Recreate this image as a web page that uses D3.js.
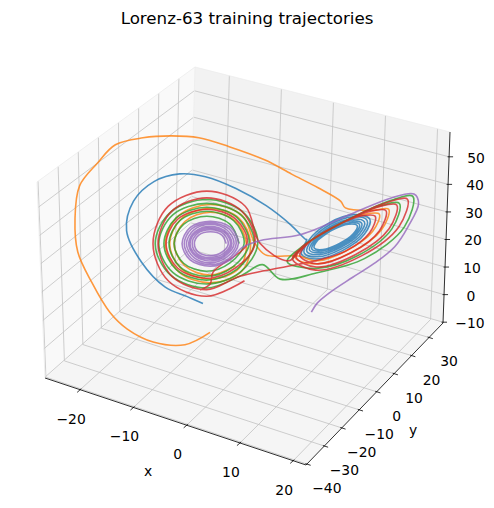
<!DOCTYPE html>
<html><head><meta charset="utf-8">
<script src="https://cdn.jsdelivr.net/npm/d3@7"></script>
<style>body{margin:0;background:#fff}svg{display:block;font-family:"DejaVu Sans",sans-serif}</style>
</head><body><svg id="c" width="494" height="508"></svg>
<script>
const xLim=[-26.6,22.4], yLim=[-40.5,38], zLim=[-10.3,59];
const xTicks=[-20,-10,0,10,20], yTicks=[-40,-30,-20,-10,0,10,20,30], zTicks=[-10,0,10,20,30,40,50];
const seriesNames=["blue","orange","green","red","purple"];
const colors=["#1f77b4","#ff7f0e","#2ca02c","#d62728","#9467bd"];

const blue=[[-8,-8,8.5],[-10.2,-10.2,11],[-13.3,-13.3,14.5],[-16.5,-16.5,23.3],[-18.5,-18.5,34.6],[-17.5,-17.5,45.2],[-14.7,-14.7,52.3],[-11.2,-11.2,55.1],[-7.7,-7.7,54.1],[-3.5,-3.5,49.8],[0.7,0.7,43.5],[4.2,4.2,36.4],[6.3,6.3,31.1],
[6.44,6.44,31.09],[5.75,5.75,25.76],[7.88,7.88,23.99],[11.51,11.51,26.78],[14.56,14.56,32.51],[15.25,15.25,37.84],[13.12,13.12,39.61],[9.49,9.49,36.82],
[6.79,6.79,30.99],[6.12,6.12,26.23],[8.05,8.05,24.77],[11.38,11.38,27.4],[14.21,14.21,32.61],[14.88,14.88,37.37],[12.95,12.95,38.83],[9.62,9.62,36.2],
[7.14,7.14,30.88],[6.5,6.5,26.71],[8.22,8.22,25.56],[11.26,11.26,28.03],[13.86,13.86,32.72],[14.5,14.5,36.89],[12.78,12.78,38.04],[9.74,9.74,35.57],
[7.48,7.48,30.88],[6.87,6.87,27.19],[8.42,8.42,26.22],[11.16,11.16,28.5],[13.52,13.52,32.72],[14.13,14.13,36.41],[12.58,12.58,37.38],[9.84,9.84,35.1],
[7.76,7.76,30.83],[7.19,7.19,27.59],[8.58,8.58,26.83],[11.07,11.07,28.97],[13.24,13.24,32.77],[13.81,13.81,36.01],[12.42,12.42,36.77],[9.93,9.93,34.63],
[8.03,8.03,30.89],[7.5,7.5,27.98],[8.75,8.75,27.33],[11,11,29.29],[12.97,12.97,32.71],[13.5,13.5,35.62],[12.25,12.25,36.27],[10,10,34.31],[8.03,8.03,30.89]];

const orange=[[-7,-7,-1.9],[-10.7,-10,-6.7],[-15,-15,-5.3],[-18.6,-18.6,-0.7],[-21,-21,5.3],[-23.4,-23.4,15.9],[-25,-25.8,27.2],[-25.5,-25.4,38.5],[-25.5,-22.7,48.9],[-25,-15,53.2],[-24,-8.6,57],[-22,-0.2,56.1],[-20,8.7,53],[-17,14.7,50.6],[-13,19.5,46.7],[-8,24.7,41.4],[-4,27.8,36.5],[1,28.1,33.9],[5,29.1,30.5],[7,26,31],
[15.51,15.51,40.95],[17.88,17.88,41.18],[16.95,16.95,33.85],[12.77,12.77,26],[7.79,7.79,22.21],[4.88,4.88,24.64],[6.35,6.35,29.31],[10.75,10.75,36.05],
[14.45,14.45,39.62],[16.57,16.57,39.52],[15.71,15.71,33.4],[12.07,12.07,26.71],[7.79,7.79,23.32],[5.31,5.31,25.2],
[0.7,0.7,25.8],
[-0.8,-0.8,30],[-2.6,-2.6,40],[-7,-7,44.1],[-11.4,-11.4,40],[-13.2,-13.2,30],[-11.4,-11.4,20],[-7,-7,15.9],[-2.6,-2.6,20],
[-1.4,-1.4,30],[-3,-3,39],[-7,-7,42.7],[-11,-11,39],[-12.6,-12.6,30],[-11,-11,21],[-7,-7,17.3],[-3,-3,21],
[-2,-2,30],[-3.5,-3.5,38],[-7,-7,41.3],[-10.5,-10.5,38],[-12,-12,30],[-10.5,-10.5,22],[-7,-7,18.7],[-3.5,-3.5,22]];

const green=[[-3,-3,30],[-4.3,-4.3,37],[-7.5,-7.5,39.9],[-10.7,-10.7,37],[-12,-12,30],[-10.7,-10.7,23],[-7.5,-7.5,20.1],[-4.3,-4.3,23],
[-2.3,-2.3,30],[-3.8,-3.8,38.3],[-7.5,-7.5,41.7],[-11.2,-11.2,38.3],[-12.7,-12.7,30],[-11.2,-11.2,21.7],[-7.5,-7.5,18.3],[-3.8,-3.8,21.7],
[-1.6,-1.6,30],[-3.3,-3.3,39.3],[-7.5,-7.5,43.1],[-11.7,-11.7,39.3],[-13.4,-13.4,30],[-11.7,-11.7,20.7],[-7.5,-7.5,16.9],[-3.3,-3.3,20.7],
[-0.9,-0.9,30],[-2.8,-2.8,40.3],[-7.5,-7.5,44.5],[-12.2,-12.2,40.3],[-14.1,-14.1,30],[-12.2,-12.2,19.7],[-7.5,-7.5,15.5],[-2.8,-2.8,19.7],
[-0.4,-0.4,30],[-2.5,-2.5,41.3],[-7.5,-7.5,45.9],[-12.5,-12.5,41.3],[-14.6,-14.6,30],[-12.5,-12.5,18.7],[-7.5,-7.5,14.1],[-2.5,-2.5,18.7],
[0.3,0.3,22.3],[2.8,2.8,17],
[7.87,7.87,18.95],[14.64,14.64,23.66],[20.19,20.19,34.63],[21.25,21.25,45.47],[18.21,18.21,44.4],[11.87,11.87,37.48],[5.89,5.89,28.72],[3.75,3.75,23.21],
[7.86,7.86,20.61],[13.64,13.64,24.76],[18.42,18.42,34.05],[19.38,19.38,43.09],[16.71,16.71,42.49],[11.25,11.25,36.69],[6.15,6.15,29.05],[4.38,4.38,24.01]];

const red=[[-8.4,-8.4,13.4],[-7,-7,15.5],[-6.6,-6.6,19.8],
[-1.9,-1.9,30],[-3.5,-3.5,38.8],[-7.5,-7.5,42.4],[-11.5,-11.5,38.8],[-13.1,-13.1,30],[-11.5,-11.5,21.2],[-7.5,-7.5,17.6],[-3.5,-3.5,21.2],
[-0.8,-0.8,30],[-2.7,-2.7,41.7],[-7.5,-7.5,46.5],[-12.3,-12.3,41.7],[-14.2,-14.2,30],[-12.3,-12.3,18.3],[-7.5,-7.5,13.5],[-2.7,-2.7,18.3],
[7.86,7.86,23.42],[11.88,11.88,26.47],[15.26,15.26,32.82],[16,16,38.8],[14,14,39.04],[10.12,10.12,35.26],[6.6,6.6,29.64],[5.5,5.5,25.44],
[7.84,7.84,22.27],[12.64,12.64,25.84],[16.64,16.64,33.47],[17.5,17.5,40.7],[15.2,15.2,40.57],[10.62,10.62,35.89],[6.4,6.4,29.37],[5,5,24.8],
[7.82,7.82,21.12],[13.39,13.39,25.23],[18.02,18.02,34.12],[19,19,42.61],[16.4,16.4,42.11],[11.12,11.12,36.53],[6.2,6.2,29.11],[4.5,4.5,24.17],
[7.79,7.79,19.98],[14.14,14.14,24.61],[19.41,19.41,34.76],[20.5,20.5,44.52],[17.61,17.61,43.64],[11.62,11.62,37.17],[6,6,28.86],[4,4,23.54],
[-0.1,-0.1,30],[-2.2,-2.2,43.4],[-7.5,-7.5,48.9],[-12.8,-12.8,43.4],[-14.9,-14.9,30],[-12.8,-12.8,16.6],[-7.5,-7.5,11.1],[-2.2,-2.2,16.6]];

const purple=[[-4.8,-4.8,30],[-5.4,-5.4,33.1],[-7,-7,34.3],[-8.6,-8.6,33.1],[-9.2,-9.2,30],[-8.6,-8.6,26.9],[-7,-7,25.7],[-5.4,-5.4,26.9],
[-4.5,-4.5,30],[-5.2,-5.2,33.6],[-7,-7,35],[-8.8,-8.8,33.6],[-9.5,-9.5,30],[-8.8,-8.8,26.4],[-7,-7,25],[-5.2,-5.2,26.4],
[-4.2,-4.2,30],[-5,-5,34],[-7,-7,35.6],[-9,-9,34],[-9.8,-9.8,30],[-9,-9,26],[-7,-7,24.4],[-5,-5,26],
[-4,-4,30],[-4.9,-4.9,34.4],[-7,-7,36.2],[-9.1,-9.1,34.4],[-10,-10,30],[-9.1,-9.1,25.6],[-7,-7,23.8],[-4.9,-4.9,25.6],
[-3.7,-3.7,30],[-4.7,-4.7,34.9],[-7,-7,36.9],[-9.3,-9.3,34.9],[-10.3,-10.3,30],[-9.3,-9.3,25.1],[-7,-7,23.1],[-4.7,-4.7,25.1],
[-3.4,-3.4,30],[-4.4,-4.4,35.3],[-7,-7,37.5],[-9.6,-9.6,35.3],[-10.6,-10.6,30],[-9.6,-9.6,24.7],[-7,-7,22.5],[-4.4,-4.4,24.7],
[-3.1,-3.1,30],[-4.2,-4.2,35.8],[-7,-7,38.1],[-9.8,-9.8,35.8],[-10.9,-10.9,30],[-9.8,-9.8,24.2],[-7,-7,21.9],[-4.2,-4.2,24.2],
[-2.6,-2.6,28.5],[0,0,31],[5.6,5.6,32.9],[12.6,12.6,39.9],[18.2,18.2,45.2],[21.4,21.4,46.3],[22.1,22.1,42.8],[20.7,20.7,34.6],[18.9,18.9,27.6],[16.1,16.1,21.9],[13,13,17],[9.8,9.8,11.7],[8.1,8.1,8.1],[7.3,7.3,4.9]];

const trajectories=[blue,orange,green,red,purple];

const C={"000":[45,378],"100":[306,465],"010":[190,250],"110":[443,323],"001":[37,182],"101":[310,265],"011":[195,67],"111":[450,132]};
const su=d3.scaleLinear().domain(xLim).range([0,1]);
const sv=d3.scaleLinear().domain(yLim).range([0,1]);
const sw=d3.scaleLinear().domain(zLim).range([0,1]);
function P(x,y,z){
  const u=su(x),v=sv(y),w=sw(z);let X=0,Y=0;
  for(const a of [0,1])for(const b of [0,1])for(const c of [0,1]){
    const wt=(a?u:1-u)*(b?v:1-v)*(c?w:1-w);const p=C[""+a+b+c];X+=wt*p[0];Y+=wt*p[1];}
  return [X,Y];
}
const svg=d3.select("#c");
const [x0,x1]=xLim,[y0,y1]=yLim,[z0,z1]=zLim;
function poly(pts,fill){svg.append("path").attr("d","M"+pts.map(p=>P(...p).join(",")).join("L")+"Z").attr("fill",fill).attr("stroke","none");}
poly([[x0,y0,z0],[x0,y1,z0],[x0,y1,z1],[x0,y0,z1]],"#f9f9f9");
poly([[x0,y1,z0],[x1,y1,z0],[x1,y1,z1],[x0,y1,z1]],"#f2f2f2");
poly([[x0,y0,z0],[x1,y0,z0],[x1,y1,z0],[x0,y1,z0]],"#f5f5f5");
const g=svg.append("g").attr("stroke","#c2c2c2").attr("stroke-width",0.8);
function seg(a,b,sel=g){const p=P(...a),q=P(...b);sel.append("line").attr("x1",p[0]).attr("y1",p[1]).attr("x2",q[0]).attr("y2",q[1]);}
xTicks.forEach(t=>{seg([t,y0,z0],[t,y1,z0]);seg([t,y1,z0],[t,y1,z1]);});
yTicks.forEach(t=>{seg([x0,t,z0],[x1,t,z0]);seg([x0,t,z0],[x0,t,z1]);});
zTicks.forEach(t=>{seg([x0,y0,t],[x0,y1,t]);seg([x0,y1,t],[x1,y1,t]);});
const e=svg.append("g").attr("stroke","#ececec").attr("stroke-width",0.8);
seg([x0,y0,z1],[x0,y1,z1],e);seg([x0,y1,z1],[x1,y1,z1],e);seg([x0,y0,z0],[x0,y0,z1],e);seg([x1,y1,z1],[x1,y1,z0],e);seg([x0,y1,z0],[x0,y1,z1],e);

const line=d3.line().curve(d3.curveCatmullRom.alpha(0.5));
trajectories.forEach((tr,i)=>{
  svg.append("path").attr("d",line(tr.map(p=>P(...p)))).attr("fill","none")
   .attr("stroke",colors[i]).attr("stroke-opacity",0.8).attr("stroke-width",1.6).attr("stroke-linejoin","round");
});

const ax=svg.append("g").attr("stroke","#000").attr("stroke-width",0.8);
seg([x0,y0,z0],[x1,y0,z0],ax);seg([x1,y0,z0],[x1,y1,z0],ax);seg([x1,y1,z0],[x1,y1,z1],ax);
const fmt=v=>(v<0?"\u2212":"")+Math.abs(v);
const txt=svg.append("g").attr("font-size","13.9px").attr("fill","#000").attr("text-anchor","middle").attr("dominant-baseline","central");
function tick(p,dx,dy){ax.append("line").attr("x1",p[0]-dx*1.5).attr("y1",p[1]-dy*1.5).attr("x2",p[0]+dx*4).attr("y2",p[1]+dy*4);}
xTicks.forEach(t=>{const p=P(t,y0,z0);tick(p,-0.75,0.66);txt.append("text").attr("x",p[0]-9).attr("y",p[1]+29).text(fmt(t));});
yTicks.forEach(t=>{const p=P(x1,t,z0);tick(p,0.95,0.3);txt.append("text").attr("x",p[0]+20).attr("y",p[1]+24).text(fmt(t));});
zTicks.forEach(t=>{const p=P(x1,y1,t);tick(p,1,0);txt.append("text").attr("x",p[0]+27).attr("y",p[1]+1).text(fmt(t));});
txt.append("text").attr("x",148).attr("y",471).text("x");
txt.append("text").attr("x",413).attr("y",430).text("y");
svg.append("text").attr("x",247).attr("y",18).attr("text-anchor","middle").attr("dominant-baseline","central").attr("font-size","16.7px").text("Lorenz-63 training trajectories");
</script></body></html>
